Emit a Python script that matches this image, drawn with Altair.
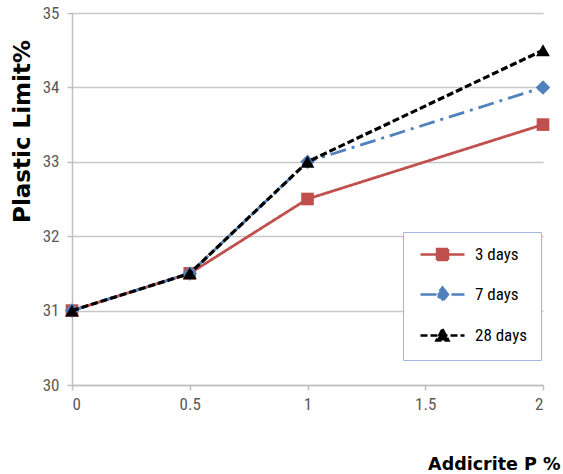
import altair as alt
import pandas as pd

# ---- data ----
additive = [0, 0.5, 1, 2]
series_names = ["3 days", "7 days", "28 days"]
limit_3d = [31, 31.5, 32.5, 33.5]
limit_7d = [31, 31.5, 33, 34]
limit_28d = [31, 31.5, 33, 34.5]

x_ticks = [0, 0.5, 1, 1.5, 2]
y_ticks = [30, 31, 32, 33, 34, 35]

colors = ["#C0504D", "#4F81BD", "#000000"]
dashes = [[1, 0], [16, 6, 3, 6], [7, 3]]
widths = [2.8, 2.8, 3.2]
shapes = ["square", "diamond", "triangle-up"]
sizes = [160, 210, 190]
legend_paths = [
    "M-4.4,0H4.4M-1.1,-1.1H1.1V1.1H-1.1Z",
    "M-4.4,0H4.4M0,-1.4L1.1,0L0,1.4L-1.1,0Z",
    "M-4.4,0H4.4M0,-1.3L1.2,1L-1.2,1Z",
]

rows = []
for name, vals in zip(series_names, [limit_3d, limit_7d, limit_28d]):
    for a, v in zip(additive, vals):
        rows.append({"add": a, "limit": v, "series": name})
df = pd.DataFrame(rows)

NARROW = "Liberation Sans Narrow, Arial Narrow, Roboto Condensed, sans-serif"
BOLD = "DejaVu Sans"

x_enc = alt.X("add:Q", scale=alt.Scale(domain=[0, 2], nice=False),
              axis=alt.Axis(values=x_ticks, format="~g", grid=False,
                            title="Addicrite P %", titleAlign="right",
                            titleAnchor="end", titleX=488, titleY=84,
                            titleBaseline="alphabetic", titleFont=BOLD,
                            titleFontSize=17.5, titleFontWeight="bold",
                            titleColor="#000000", labelPadding=6))
y_enc = alt.Y("limit:Q", scale=alt.Scale(domain=[30, 35], nice=False, zero=False),
              axis=alt.Axis(values=y_ticks, grid=True, title="Plastic Limit%",
                            titleFont=BOLD, titleFontSize=23, titleFontWeight="bold",
                            titleColor="#000000", titleAngle=-90, titleX=-50,
                            titleY=118, titleAlign="center", titleBaseline="middle",
                            labelPadding=8))

base = alt.Chart(df)
layers = []
for i, name in enumerate(series_names):
    sub = base.transform_filter(alt.datum.series == name)
    layers.append(sub.mark_line(color=colors[i], strokeDash=dashes[i],
                                strokeWidth=widths[i]).encode(x=x_enc, y=y_enc))
    layers.append(sub.mark_point(shape=shapes[i], filled=True, color=colors[i],
                                 size=sizes[i], opacity=1).encode(x=x_enc, y=y_enc))

leg_scale_kw = dict(domain=series_names)
legend_layer = base.mark_point(filled=True, opacity=0, strokeWidth=2.5).encode(
    x=x_enc, y=y_enc,
    fill=alt.Fill("series:N", scale=alt.Scale(range=colors, **leg_scale_kw),
                  legend=alt.Legend(title=None)),
    stroke=alt.Stroke("series:N", scale=alt.Scale(range=colors, **leg_scale_kw),
                      legend=alt.Legend(title=None)),
    shape=alt.Shape("series:N", scale=alt.Scale(range=legend_paths, **leg_scale_kw),
                    legend=alt.Legend(title=None)),
    strokeDash=alt.StrokeDash("series:N", scale=alt.Scale(range=dashes, **leg_scale_kw),
                              legend=alt.Legend(title=None)),
)
layers.append(legend_layer)

chart = alt.layer(*layers).properties(
    width=471, height=372,
    autosize=alt.AutoSizeParams(type="none"),
    padding={"left": 72, "top": 13, "right": 20, "bottom": 89},
    background="white",
).configure_view(stroke=None).configure_axis(
    domainColor="#bfbfbf", domainWidth=1.5,
    gridColor="#c8c8c8", gridWidth=1.5,
    tickColor="#bfbfbf", tickSize=5, tickWidth=1.5,
    labelColor="#595959", labelFont=NARROW, labelFontSize=17,
).configure_legend(
    orient="none", legendX=331, legendY=219,
    strokeColor="#9db9e0", fillColor="white", strokeWidth=1,
    padding=14, rowPadding=17, symbolSize=100, symbolStrokeWidth=2.5,
    symbolOpacity=1, labelOffset=24, symbolOffset=17,
    labelFont=NARROW, labelFontSize=17, labelColor="#000000",
)

chart.save("out.html", embed_options={"renderer": "svg", "actions": False})
